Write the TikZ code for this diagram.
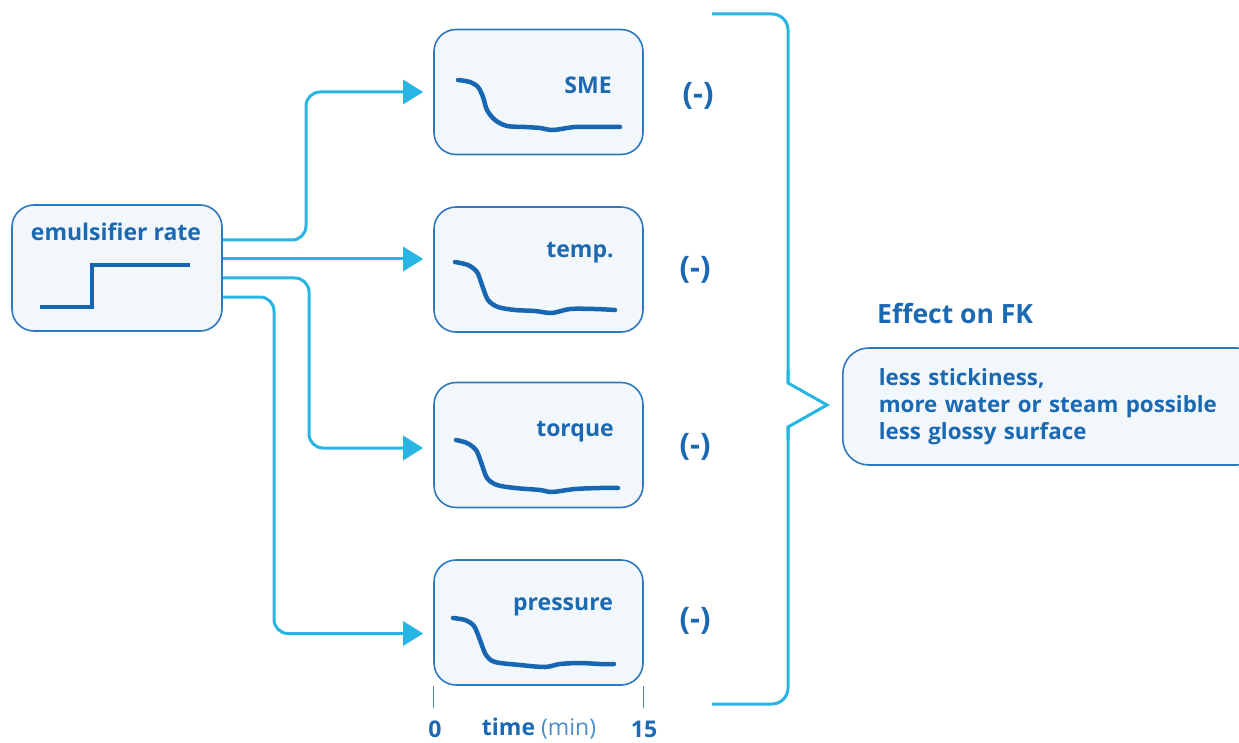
\documentclass[tikz,border=0pt]{standalone}
\usepackage{fontspec}
\setmainfont{Open Sans}
\usetikzlibrary{arrows.meta,calc}
\definecolor{boxline}{HTML}{2E78BE}
\definecolor{boxfill}{HTML}{F2F7FB}
\definecolor{txt}{HTML}{1B69B2}
\definecolor{conn}{HTML}{27B5E3}
\definecolor{curvec}{HTML}{1766B1}
\definecolor{axisc}{HTML}{4F86BA}
\definecolor{minc}{HTML}{4B8DCB}
\tikzset{
  panel/.style={draw=boxline, line width=1.6pt, fill=boxfill, rounded corners=22pt,
    minimum width=209pt, minimum height=125pt, inner sep=0pt},
  lab/.style={text=txt, font=\fontsize{23}{27}\selectfont\bfseries, inner sep=0pt},
  minus/.style={text=txt, font=\fontsize{31}{36}\selectfont\bfseries, inner sep=0pt},
  connector/.style={draw=conn, line width=3pt, rounded corners=14pt,
    -{Triangle[length=20pt,width=24pt]}, shorten >=10pt},
  trend/.style={draw=curvec, line width=4.5pt, line cap=round, line join=round},
  bracec/.style={draw=conn, line width=3pt, rounded corners=16pt},
  axisline/.style={draw=axisc, line width=1.3pt}
}
\begin{document}
\begin{tikzpicture}[x=1pt,y=-1pt]
\useasboundingbox (0,0) rectangle (1239,743);
\clip (0,0) rectangle (1239,743);

% source node
\node[panel, minimum width=210pt, minimum height=126pt] (emu) at (117,268) {};
\node[lab] (emulab) at (116,232) {emulsifier rate};
\draw[trend, line cap=butt, line join=miter] (40,307) -- (92,307) -- (92,265) -- (190,265);

% target panels
\node[panel] (sme) at (538.5,92) {};
\node[panel] (temp) at (538.5,269.5) {};
\node[panel] (torq) at (538.5,445) {};
\node[panel] (pres) at (538.5,622.5) {};

\node[lab] (smelab) at (588,85) {SME};
\node[lab] (templab) at (580,253) {temp.};
\node[lab] (torqlab) at (575,432) {torque};
\node[lab] (preslab) at (563,607) {pressure};

\draw[trend] plot[smooth, tension=0.5] coordinates {(458,80) (470,82) (478,87) (483,97) (487,110) (495,120) (507,126) (525,127) (540,128) (553,130) (575,127) (600,127) (620,127)};
\draw[trend] plot[smooth, tension=0.5] coordinates {(455,262) (468,265) (477,272) (482,285) (488,300) (498,307) (515,310) (535,311) (552,313) (570,309) (595,309) (615,310)};
\draw[trend] plot[smooth, tension=0.5] coordinates {(456,440) (467,443) (476,450) (481,462) (487,478) (497,485) (515,488) (540,490) (552,492) (575,489) (600,488) (618,488)};
\draw[trend] plot[smooth, tension=0.5] coordinates {(453,618) (465,620) (474,626) (480,640) (486,655) (495,662) (520,665) (545,667) (560,664) (580,663) (600,664) (614,664)};

% connectors
\coordinate (v1) at (306,0);
\coordinate (v3) at (309,0);
\coordinate (v4) at (274,0);
\coordinate (c1) at ($(emu.east)+(0,-28)$);
\coordinate (c2) at ($(emu.east)+(0,-9)$);
\coordinate (c3) at ($(emu.east)+(0,10)$);
\coordinate (c4) at ($(emu.east)+(0,29)$);
\coordinate (t4) at ($(pres.west)+(0,11)$);
\coordinate (t3) at ($(torq.west)+(0,3)$);
\draw[connector] (c1) -| (v1 |- sme.west) -- (sme.west);
\draw[connector] (c2) -- (c2 -| temp.west);
\draw[connector] (c3) -| (v3 |- t3) -- (t3);
\draw[connector] (c4) -| (v4 |- t4) -- (t4);

% minus signs
\node[minus] (m1) at (698,96) {(-)};
\node[minus] (m2) at (695,270) {(-)};
\node[minus] (m3) at (695,447) {(-)};
\node[minus] (m4) at (695,621) {(-)};

% time axis
\draw[axisline] (pres.south west) -- ++(0,22);
\draw[axisline] (pres.south east) -- ++(0,22);
\node[lab] (t0) at (435,729) {0};
\node[lab] (tlab) at (539,729) {time {\mdseries\color{minc}(min)}};
\node[lab] (t15) at (644,729) {15};

% brace
\draw[bracec] (712,14) -- (788,14) -- (788,383);
\draw[draw=conn, line width=3pt, line join=miter] (788,370) -- (788,383) -- (827,405) -- (788,427) -- (788,440);
\draw[bracec] (788,427) -- (788,704) -- (712,704);

% effect
\node[text=txt, font=\fontsize{26.5}{30}\selectfont\bfseries, inner sep=0pt, anchor=west] (efftitle) at (877,313) {Effect on FK};
\node[draw=boxline, line width=1.6pt, fill=boxfill, rounded corners=26pt,
  minimum width=420pt, minimum height=117pt, anchor=west, inner xsep=36pt, inner ysep=0pt,
  text width=348pt, align=left, text=txt, font=\fontsize{22.3}{27}\selectfont\bfseries] (eff) at (842,406.5)
  {less stickiness,\\more water or steam possible\\less glossy surface};
\end{tikzpicture}
\end{document}
